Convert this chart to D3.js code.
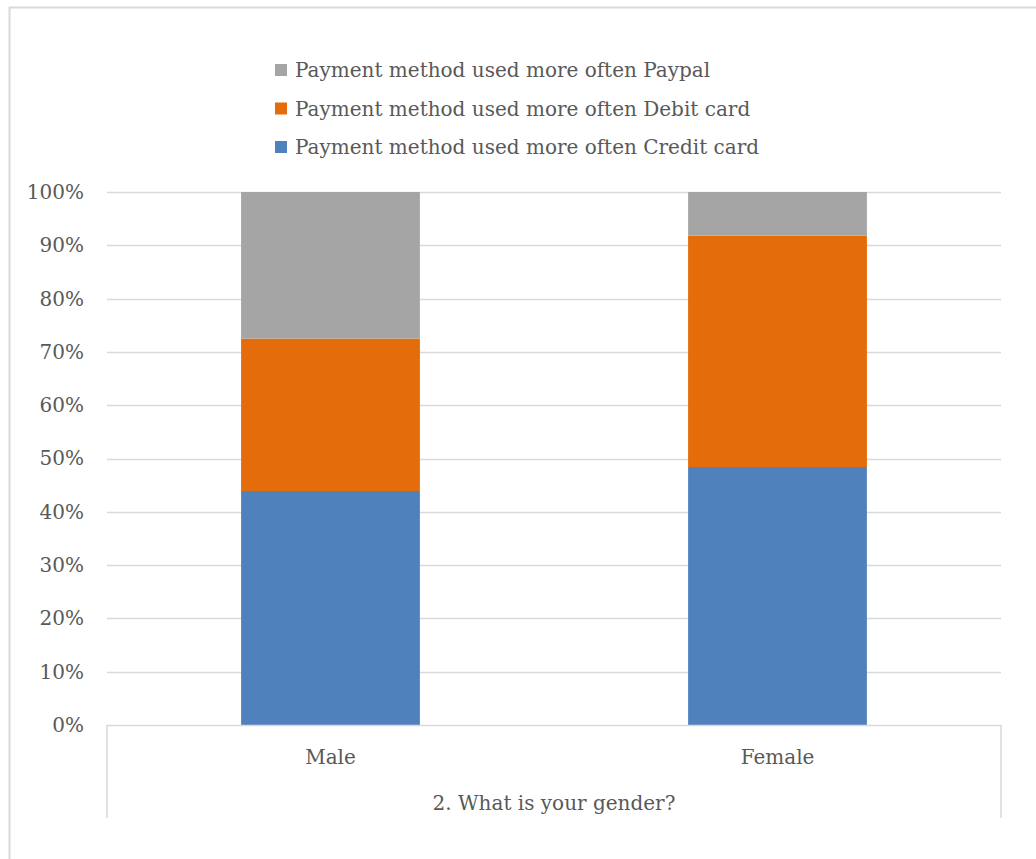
<!DOCTYPE html>
<html><head><meta charset="utf-8">
<script src="https://cdn.jsdelivr.net/npm/d3@7"></script>
<style>body{margin:0;background:#fff}svg text{font-family:"DejaVu Serif",serif;fill:#595959}</style>
</head><body><svg id="c" width="1036" height="859"></svg>
<script>
const categories = ["Male", "Female"];
const seriesNames = ["Payment method used more often Credit card", "Payment method used more often Debit card", "Payment method used more often Paypal"];
const creditCard = [0.439, 0.484];
const debitCard = [0.286, 0.434];
const paypal = [0.275, 0.082];
const yTicks = [0,0.1,0.2,0.3,0.4,0.5,0.6,0.7,0.8,0.9,1.0];
const axisTitle = "2. What is your gender?";
const colors = ["#4f81bd", "#e46c0a", "#a5a5a5"];

(function(){
const svg = d3.select("#c");
const fs = "20px";
// outer border
svg.append("rect").attr("x",9.5).attr("y",7.5).attr("width",1040).attr("height",870)
  .attr("fill","none").attr("stroke","#d9d9d9").attr("stroke-width",2);

const pLeft=107, pRight=1001, pTop=192, pBottom=725;
const x = d3.scaleBand().domain(categories).range([pLeft,pRight]).paddingInner(0.6).paddingOuter(0.3);
const y = d3.scaleLinear().domain([0,1]).range([pBottom,pTop]);

// gridlines
svg.append("g").selectAll("line").data(yTicks.filter(d=>d>0)).join("line")
  .attr("x1",pLeft).attr("x2",pRight).attr("y1",d=>Math.round(y(d))+0.5).attr("y2",d=>Math.round(y(d))+0.5)
  .attr("stroke","#d9d9d9").attr("stroke-width",1.5);

// y axis labels
const yAxis = d3.axisLeft(y).tickValues(yTicks).tickFormat(d3.format(".0%")).tickSize(0).tickPadding(23);
const ga = svg.append("g").attr("transform",`translate(${pLeft},0)`).call(yAxis);
ga.select(".domain").remove();
ga.selectAll("text").style("font-size",fs).attr("fill","#595959").attr("font-family",null);

// stack
const data = categories.map((c,i)=>({cat:c, s0:creditCard[i], s1:debitCard[i], s2:paypal[i]}));
const stack = d3.stack().keys(["s0","s1","s2"])(data);
svg.append("g").selectAll("g").data(stack).join("g").attr("fill",(d,i)=>colors[i])
  .selectAll("rect").data(d=>d).join("rect")
  .attr("x",d=>x(d.data.cat)).attr("width",x.bandwidth())
  .attr("y",d=>y(d[1])).attr("height",d=>y(d[0])-y(d[1]));

// x axis lines
svg.append("line").attr("x1",pLeft).attr("x2",pRight).attr("y1",pBottom+0.5).attr("y2",pBottom+0.5).attr("stroke","#d9d9d9").attr("stroke-width",1.5);
[pLeft,pRight].forEach(px=>svg.append("line").attr("x1",px).attr("x2",px).attr("y1",pBottom).attr("y2",818).attr("stroke","#d9d9d9").attr("stroke-width",1.5));

// category labels
svg.append("g").selectAll("text").data(categories).join("text")
  .attr("x",d=>x(d)+x.bandwidth()/2).attr("y",764).attr("text-anchor","middle")
  .style("font-size",fs).text(d=>d);
svg.append("text").attr("x",(pLeft+pRight)/2).attr("y",810).attr("text-anchor","middle").style("font-size",fs).text(axisTitle);

// legend
const legendOrder = [2,1,0];
const lg = svg.append("g").selectAll("g").data(legendOrder).join("g")
  .attr("transform",(d,i)=>`translate(275,${70+i*38.5})`);
lg.append("rect").attr("x",0).attr("y",-6).attr("width",12).attr("height",12).attr("fill",d=>colors[d]);
lg.append("text").attr("x",20).attr("y",7).style("font-size",fs).text(d=>seriesNames[d]);
})();
</script></body></html>
